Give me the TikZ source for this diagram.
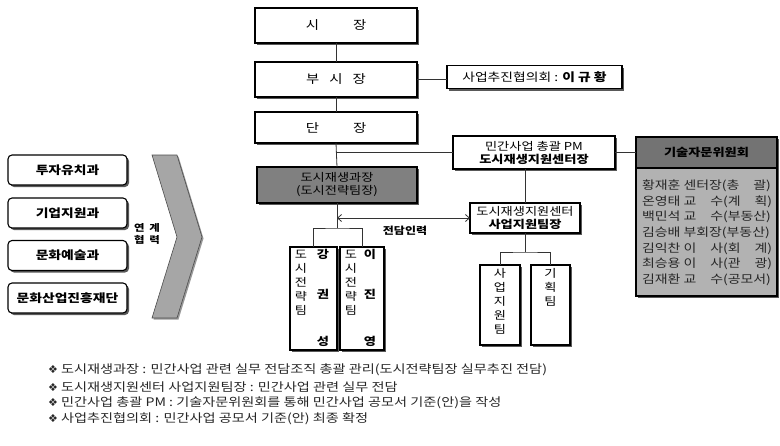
\documentclass[tikz,border=0pt]{standalone}
\usepackage{fontspec}
\setmainfont[FakeStretch=1.2]{Noto Sans CJK KR}
\newfontfamily\sym{DejaVu Sans}
\usetikzlibrary{shadows,arrows.meta}
\newcommand{\dia}{{\sym\fontsize{11}{12}\selectfont ❖}}
\begin{document}
\begin{tikzpicture}[x=1pt,y=-1pt,
  every node/.style={inner sep=0pt,outer sep=0pt,font=\fontsize{11}{13}\selectfont},
  shd/.style={drop shadow={shadow xshift=2pt,shadow yshift=-2pt,fill=black!65,opacity=1}},
  mbox/.style={draw,line width=1.1pt,fill=white,shd,align=center},
  rbox/.style={mbox,rounded corners=4pt,minimum width=119pt,minimum height=30pt,font=\fontsize{11.5}{13}\selectfont\bfseries},
  ln/.style={line width=0.8pt,draw=black!80},
  vtxt/.style={align=center,font=\fontsize{11}{14}\selectfont},
  note/.style={anchor=west,font=\fontsize{11.8}{14}\selectfont,text=black!85}
]
\useasboundingbox (0,0) rectangle (780,445);

% left boxes
\node[rbox] (tu) at (67.5,170) {투자유치과};
\node[rbox] (gi) at (67.5,213) {기업지원과};
\node[rbox] (mu) at (67.5,255.5) {문화예술과};
\node[rbox] (ms) at (67.5,298) {문화산업진흥재단};

% chevron
\draw[fill=black!35,draw=black!70,line width=0.6pt,drop shadow={shadow xshift=1.5pt,shadow yshift=-1.5pt,fill=black!40,opacity=1}]
  (152,155) -- (177,155) -- (202,237) -- (177,318) -- (152,318) -- (177,237) -- cycle;
\node[font=\fontsize{9.5}{12}\selectfont\bfseries,align=center] (yk) at (147,234) {연\hspace{5pt}계\\협\hspace{5pt}력};

% main column
\node[mbox,minimum width=162pt,minimum height=35pt,font=\fontsize{12}{14}\selectfont] (si) at (336,25.5) {시\hspace{34pt}장};
\node[mbox,minimum width=162pt,minimum height=35pt,font=\fontsize{12}{14}\selectfont] (busi) at (336,79.5) {부\hspace{10pt}시\hspace{10pt}장};
\node[mbox,minimum width=162pt,minimum height=31pt,font=\fontsize{12}{14}\selectfont] (dan) at (336,127.5) {단\hspace{34pt}장};
\node[mbox,minimum width=175pt,minimum height=23pt,font=\fontsize{11.5}{13}\selectfont] (hy) at (534.5,77) {사업추진협의회 : \textbf{이 규 황}};
\node[mbox,minimum width=162pt,minimum height=33pt] (pm) at (534,152.5) {민간사업 총괄 PM\\\textbf{도시재생지원센터장}};
\node[mbox,fill=black!50,minimum width=160pt,minimum height=36pt] (dosi) at (337,185) {도시재생과장\\(도시전략팀장)};
\node[mbox,minimum width=110pt,minimum height=30pt] (sa) at (525,218) {도시재생지원센터\\\textbf{사업지원팀장}};

% technical committee
\node[draw,line width=1.1pt,fill=black!30,shd,minimum width=141pt,minimum height=159pt] (gs) at (706.5,216.5) {};
\node[draw,line width=1.1pt,fill=black!55,minimum width=141pt,minimum height=31pt,font=\fontsize{11}{13}\selectfont\bfseries] (gsh) at (706.5,152.5) {기술자문위원회};
\node[anchor=north west,align=left,font=\fontsize{11.6}{15.6}\selectfont,text=black!85] (gsb) at (642,180)
 {황재훈 센터장(총　괄)\\온영태 교　수(계　획)\\백민석 교　수(부동산)\\김승배 부회장(부동산)\\김익찬 이　사(회　계)\\최승용 이　사(관　광)\\김재환 교　수(공모서)};

% sub boxes
\node[mbox,minimum width=47pt,minimum height=103pt] (k1) at (313.5,298.5) {};
\node[mbox,minimum width=44pt,minimum height=103pt] (k2) at (362,298.5) {};
\node[mbox,minimum width=40pt,minimum height=80pt] (s1) at (500,305) {};
\node[mbox,minimum width=39pt,minimum height=80pt] (s2) at (550.5,305) {};

\node[vtxt,anchor=north] (k1a) at (301,250) {도\\시\\전\\략\\팀};
\node[vtxt,anchor=north,font=\fontsize{11}{14}\selectfont\bfseries] (k1b) at (323,249) {강\\[26pt]권\\[33pt]성};
\node[vtxt,anchor=north] (k2a) at (351,250) {도\\시\\전\\략\\팀};
\node[vtxt,anchor=north,font=\fontsize{11}{14}\selectfont\bfseries] (k2b) at (370,249) {이\\[26pt]진\\[33pt]영};
\node[vtxt,anchor=north] (s1a) at (500,268) {사\\업\\지\\원\\팀};
\node[vtxt,anchor=north] (s2a) at (550.5,268) {기\\획\\팀};

% connectors
\draw[ln] (si.south) -- (busi.north);
\draw[ln] (busi.south) -- (dan.north);
\draw[ln] (dan.south) -- (dosi.north);
\draw[ln] (busi.east) -- (busi.east -| hy.west);
\coordinate (j1) at (336,152.5);
\draw[ln] (j1) -- (pm.west);
\draw[ln] (pm.east) -- (gsh.west);
\draw[ln] (sa.north) -- (sa.north |- pm.south);
\coordinate (j2) at (337,228);
\draw[ln] (dosi.south) -- (j2);
\draw[ln] (k1.north) |- (j2) -| (k2.north);
\coordinate (j3) at (525,252);
\draw[ln] (sa.south) -- (j3);
\draw[ln] (s1.north) |- (j3) -| (s2.north);
\coordinate (ja) at (337,218);
\draw[ln,{Straight Barb[length=4pt,width=7pt]}-{Straight Barb[length=4pt,width=7pt]}] (ja) -- (sa.west);
\node[font=\fontsize{10}{12}\selectfont\bfseries] (jd) at (405,231) {전담인력};

% notes
\node[note] (n1) at (48,370) {\dia\ 도시재생과장 : 민간사업 관련 실무 전담조직 총괄 관리(도시전략팀장 실무추진 전담)};
\node[note] (n2) at (48,387) {\dia\ 도시재생지원센터 사업지원팀장 : 민간사업 관련 실무 전담};
\node[note] (n3) at (48,403) {\dia\ 민간사업 총괄 PM : 기술자문위원회를 통해 민간사업 공모서 기준(안)을 작성};
\node[note] (n4) at (48,419) {\dia\ 사업추진협의회 : 민간사업 공모서 기준(안) 최종 확정};
\end{tikzpicture}
\end{document}
